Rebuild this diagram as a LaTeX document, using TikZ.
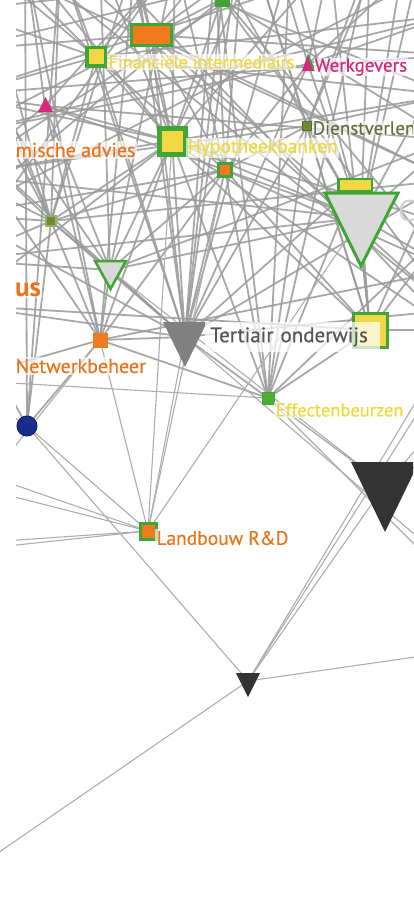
\documentclass[tikz,border=0pt]{standalone}
\usepackage{fontspec}
\setmainfont{PT Sans}
\newfontface\semib{PT Sans}[FakeBold=0.4]
\definecolor{ngreen}{HTML}{3FA535}
\definecolor{norange}{HTML}{F07A1E}
\definecolor{nyellow}{HTML}{F3D644}
\definecolor{tyellow}{HTML}{EFD93A}
\definecolor{nmagenta}{HTML}{D42A7E}
\definecolor{nolive}{HTML}{6E8A33}
\definecolor{tolive}{HTML}{66703F}
\definecolor{ngray}{HTML}{808080}
\definecolor{ndark}{HTML}{333333}
\definecolor{nblue}{HTML}{1A2D8F}
\definecolor{edgegray}{HTML}{999999}
\definecolor{lightfill}{HTML}{D9D9D9}
\definecolor{torange}{HTML}{E8741C}
\definecolor{tgray}{HTML}{555555}
\pgfdeclarelayer{bg}
\pgfdeclarelayer{mask}
\pgfsetlayers{bg,mask,main}
\tikzset{
  edge/.style={draw=edgegray, line width=1.8pt, draw opacity=0.85},
  thinedge/.style={draw=edgegray!80, line width=1.1pt},
  sqbox/.style={rectangle, inner sep=0pt, draw=ngreen},
  lbl/.style={anchor=west, inner sep=1.5pt, fill=white, fill opacity=0.65, text opacity=1, font=\semib\fontsize{#1}{#1}\selectfont},
  lbl/.default=17
}
\begin{document}
\begin{tikzpicture}[x=1pt,y=-1pt]
\useasboundingbox (0,0) rectangle (413,899);
\clip (0,0) rectangle (413,899);
% off-canvas ends
\foreach \n/\x/\y in {t1/-20/-40,t2/25/-40,t3/60/-40,t4/100/-40,t5/135/-40,t6/175/-40,t7/215/-40,t8/255/-40,t9/290/-40,t10/330/-40,t11/370/-40,t12/420/-40,t13/460/-40,
 u1/-80/-120,u2/100/-150,u3/250/-130,u4/420/-140,u5/560/-100,
 l1/-40/10,l2/-40/50,l3/-40/95,l4/-40/135,l5/-40/175,l6/-40/215,l7/-40/260,l8/-40/305,l9/-40/380,l10/-40/466,l11/-40/483,l12/-40/544,l13/-40/515,l14/-40/551,
 r1/450/15,r2/450/55,r3/450/95,r4/450/140,r5/450/180,r6/450/225,r7/450/270,r8/450/310,r9/450/330,r9a/450/345,r9b/450/362,r10/450/410,r11/450/445,r12/450/580,r12b/450/565,r13/450/652,bl/-40/879}
  \coordinate (\n) at (\x,\y);
% triangle centres
\coordinate (WK) at (308,64);
\coordinate (PT) at (45,106);
\coordinate (BT) at (361,218);
\coordinate (ST) at (110,270);
\coordinate (TT) at (185,337);
\coordinate (BK) at (385,485);
\coordinate (SK) at (248,681);
% square / round nodes
\node[sqbox, fill=ngreen, minimum size=14] (G0) at (222,-1) {};
\node[sqbox, fill=norange, line width=3pt, minimum width=40, minimum height=21] (OR) at (151,35) {};
\node[sqbox, fill=nyellow, line width=3.5pt, minimum size=18.5] (FI) at (96,57) {};
\node[sqbox, fill=nolive, draw=nolive!80!black, line width=1pt, minimum size=9] (DV) at (307,126) {};
\node[sqbox, fill=nyellow, line width=5pt, minimum size=26] (HB) at (172,141) {};
\node[sqbox, fill=norange, line width=3pt, minimum size=13] (OS) at (225,170) {};
\node[sqbox, fill=nyellow, line width=2.5pt, minimum width=33.5, minimum height=12] (YR) at (355,185) {};
\node[sqbox, fill=nolive, draw=nolive!70, line width=1.5pt, minimum size=10] (OL) at (51,221) {};
\node[sqbox, fill=norange, draw=norange, minimum size=14] (NW) at (100,340) {};
\node[sqbox, fill=nyellow, line width=3pt, minimum size=34] (YS) at (370,330) {};
\node[sqbox, fill=ngreen!90!lime, draw=ngreen, line width=1pt, minimum size=12] (EB) at (268,398) {};
\node[circle, fill=nblue, draw=nblue!70!black, line width=1pt, minimum size=20, inner sep=0pt] (BC) at (27,426) {};
\node[sqbox, fill=norange, line width=3pt, minimum size=16] (LB) at (148,531) {};
% edges
\begin{pgfonlayer}{bg}
\foreach \a/\b in {HB/t2,HB/t4,HB/t6,HB/t8,HB/t10,HB/u2,HB/l3,HB/l5,HB/r3,HB/r6,HB/TT,HB/BT,HB/NW,HB/ST,HB/YS,HB/OL,HB/FI,HB/OR,HB/l8,HB/r9,HB/PT,HB/EB,
 TT/t3,TT/t5,TT/t7,TT/t9,TT/u3,TT/l6,TT/l8,TT/r5,TT/r8,TT/OS,TT/FI,TT/ST,TT/EB,TT/NW,TT/OR,TT/DV,TT/YR,TT/G0,TT/WK,TT/l4,
 BT/t9,BT/t11,BT/t12,BT/u4,BT/r2,BT/r4,BT/r7,BT/YS,BT/l7,BT/OS,BT/WK,BT/DV,BT/ST,BT/YR,BT/t7,BT/l5,BT/OR,
 YS/r6,YS/r9,YS/t10,YS/t8,YS/OS,YS/EB,YS/l8,YS/YR,YS/DV,YS/u5,
 EB/t7,EB/t9,EB/OS,EB/NW,EB/r6,EB/YR,EB/DV,EB/t11,
 NW/t2,NW/t5,NW/l4,NW/l9,NW/OS,NW/r7,NW/PT,NW/ST,
 OL/l1,OL/l2,OL/l4,OL/l5,OL/l6,OL/l7,OL/t1,OL/t3,OL/t5,OL/OS,OL/ST,OL/r5,OL/TT,OL/u1,OL/NW,OL/FI,
 ST/t4,ST/t6,ST/l2,ST/l7,ST/r4,ST/OS,ST/PT,
 FI/t1,FI/t3,FI/t6,FI/l1,FI/l3,FI/r1,FI/r3,FI/OS,FI/u1,
 OR/t5,OR/t7,OR/t8,OR/l2,OR/r2,OR/r5,OR/OS,OR/u2,
 WK/t10,WK/t12,WK/l4,WK/r1,WK/OS,WK/u3,
 PT/t2,PT/l3,PT/r4,PT/t6,PT/OS,PT/l5,
 DV/t11,DV/l5,DV/r3,DV/OS,DV/t8,DV/u4,
 OS/t6,OS/t7,OS/r7,OS/l6,OS/u3,
 G0/l4,G0/r4,G0/HB,G0/l6,G0/r8,
 BC/l8,BC/t2,BC/t3,BC/NW,BC/OL,
 t1/r5,t3/r8,l1/t12,l3/r2,l5/t9,t4/r9,l2/t10,u1/r3,l4/r1,t13/l6,u5/l3,l7/t6,r8/t2,r7/u2}
  \draw[edge] (\a.center) -- (\b.center);
\foreach \a/\b in {BC/SK,BC/LB,LB/l10,LB/l11,LB/l12,LB/l14,LB/NW,LB/TT,LB/HB,LB/OS,LB/BT,
 EB/BK,EB/r12,EB/l9,TT/BK,TT/r12b,ST/BK,SK/BK,SK/r9a,SK/r9b,SK/r13,SK/bl,BK/r10,BK/r11,l13/NW,BC/l9}
  \draw[thinedge] (\a.center) -- (\b.center);
\end{pgfonlayer}
\begin{pgfonlayer}{mask}
\fill[white] (0,0) rectangle (16,590);
\end{pgfonlayer}
% triangles
\path[fill=nmagenta] (302,71) -- (315,71) -- (308,54) -- cycle;
\draw[ngreen, line width=2pt] (308,55) -- (314,70);
\path[fill=nmagenta] (38,112) -- (53,112) -- (45.5,97) -- cycle;
\path[draw=ngreen, line width=3pt, fill=lightfill, line join=miter] (325,193) -- (398,193) -- (361,266) -- cycle;
\path[draw=ngreen, line width=2.5pt, fill=lightfill, line join=miter] (95,261) -- (126,261) -- (110.5,289) -- cycle;
\path[fill=ngray] (163,322) -- (207,322) -- (185,367) -- cycle;
\path[fill=ndark] (351,462) -- (419,462) -- (385,532) -- cycle;
\path[fill=ndark] (236,673) -- (260,673) -- (248,697) -- cycle;
% labels
\node[lbl=18, text=tyellow] (FIt) at (107,62) {Financiële intermediairs};
\node[lbl=19, text=nmagenta, inner sep=0.5pt] (WKt) at (314,67) {Werkgevers};
\node[lbl=19, text=tolive, inner sep=0.5pt] (DVt) at (312,128) {Dienstverlen};
\node[lbl=20, text=torange] (MAt) at (14,150) {mische advies};
\node[lbl=19.5, text=tyellow] (HBt) at (186,148) {Hypotheekbanken};
\node[anchor=west, text=gray!35, font=\fontsize{30}{30}\selectfont, inner sep=0pt] (Ct) at (398,211) {C};
\node[lbl=27, text=torange, font=\fontsize{27}{27}\selectfont\bfseries, inner sep=1pt] (USt) at (14,290) {us};
\node[lbl=20, text=torange] (NWt) at (14,366) {Netwerkbeheer};
\node[anchor=west, fill=white, fill opacity=0.72, text opacity=1, text=tgray, inner xsep=5pt, inner ysep=0pt,
      text width=165pt, minimum height=30pt, align=left, font=\semib\fontsize{21}{21}\selectfont] (TTt) at (205,337) {Tertiair onderwijs};
\node[lbl=18.5, text=tyellow] (EBt) at (274,410) {Effectenbeurzen};
\node[lbl=19.5, text=torange] (LBt) at (155,538) {Landbouw R\&D};
\end{tikzpicture}
\end{document}
